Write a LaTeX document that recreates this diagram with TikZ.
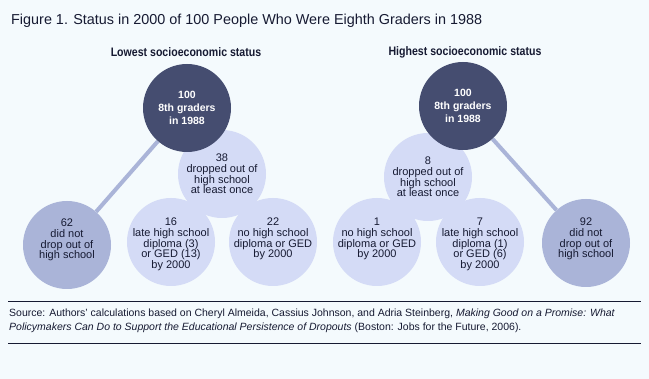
\documentclass[tikz,border=0pt]{standalone}
\usepackage{fontspec}
\setmainfont{Liberation Sans}
\newfontfamily\narrowfont[FakeStretch=0.86]{Liberation Sans}
\usetikzlibrary{positioning}
\usetikzlibrary{backgrounds}
\definecolor{bgpale}{RGB}{244,250,253}
\definecolor{navy}{RGB}{69,77,112}
\definecolor{midblue}{RGB}{170,180,216}
\definecolor{paleblue}{RGB}{212,219,246}
\definecolor{inktext}{RGB}{22,26,50}

\begin{document}
\begin{tikzpicture}[x=1pt,y=1pt,yscale=-1,
    dot/.style={circle,inner sep=0pt,minimum size=88pt},
    rootdot/.style={dot,fill=navy},
    keptdot/.style={dot,fill=midblue},
    dropdot/.style={dot,fill=paleblue},
    circtext/.style={align=center,inner sep=0pt,text=inktext,font=\fontsize{11}{10.7}\selectfont},
    roottext/.style={align=center,inner sep=0pt,text=white,font=\bfseries\fontsize{10.5}{13}\selectfont},
    stem/.style={midblue,line width=4pt},
    heading/.style={text=inktext,font=\narrowfont\bfseries\fontsize{12.3}{14}\selectfont},
    rule/.style={inktext,line width=1pt}]

    \useasboundingbox (0,0) rectangle (649,379);

    \node [anchor=west,inner sep=0pt,text=inktext,font=\fontsize{14.4}{16}\selectfont] (title) at (11,21) {Figure 1. Status in 2000 of 100 People Who Were Eighth Graders in 1988};
    \node [heading] (lowhead) at (186,52) {Lowest socioeconomic status};
    \node [heading] (highhead) at (465,52) {Highest socioeconomic status};

    % lowest status
    \node [dropdot] (lowdrop) at (222,174) {};
    \node [dropdot] (lowlate) at (171,242) {};
    \node [dropdot] (lownone) at (273,242) {};
    \node [keptdot] (lowkept) at (67,245) {};
    \node [rootdot] (lowtop) at (187,108) {};

    % highest status
    \node [dropdot] (highdrop) at (428,177) {};
    \node [dropdot] (highnone) at (377,242) {};
    \node [dropdot] (highlate) at (480,242) {};
    \node [keptdot] (highkept) at (586,243) {};
    \node [rootdot] (hightop) at (463,106) {};

    \begin{scope}[on background layer]
        \fill [bgpale] (0,0) rectangle (649,379);
        \draw [stem] (lowtop) -- (lowkept);
        \draw [stem] (hightop) -- (highkept);
    \end{scope}

    \node [roottext] (lowtoptext) at (lowtop.center) {100\\8th graders\\in 1988};
    \node [circtext] (lowdroptext) at (lowdrop.center) {38\\dropped out of\\high school\\at least once};
    \node [circtext,anchor=north] (lowkepttext) at ([yshift=-26pt]lowkept.center) {62\\did not\\drop out of\\high school};
    \node [circtext,anchor=north] (lowlatetext) at ([yshift=-24pt]lowlate.center) {16\\late high school\\diploma (3)\\or GED (13)\\by 2000};
    \node [circtext,anchor=north] (lownonetext) at ([yshift=-24pt]lownone.center) {22\\no high school\\diploma or GED\\by 2000};

    \node [roottext] (hightoptext) at (hightop.center) {100\\8th graders\\in 1988};
    \node [circtext] (highdroptext) at (highdrop.center) {8\\dropped out of\\high school\\at least once};
    \node [circtext,anchor=north] (highnonetext) at ([yshift=-24pt]highnone.center) {1\\no high school\\diploma or GED\\by 2000};
    \node [circtext,anchor=north] (highlatetext) at ([yshift=-24pt]highlate.center) {7\\late high school\\diploma (1)\\or GED (6)\\by 2000};
    \node [circtext,anchor=north] (highkepttext) at ([yshift=-25pt]highkept.center) {92\\did not\\drop out of\\high school};

    \draw [rule] (8,302) -- (641,302);
    \draw [rule] (8,344) -- (641,344);
    \node [anchor=north west,inner sep=0pt,align=left,text=inktext,font=\fontsize{10.5}{13.5}\selectfont] (source) at (9,309) {Source: Authors' calculations based on Cheryl Almeida, Cassius Johnson, and Adria Steinberg, \textit{Making Good on a Promise: What}\\\textit{Policymakers Can Do to Support the Educational Persistence of Dropouts} (Boston: Jobs for the Future, 2006).};
\end{tikzpicture}
\end{document}
